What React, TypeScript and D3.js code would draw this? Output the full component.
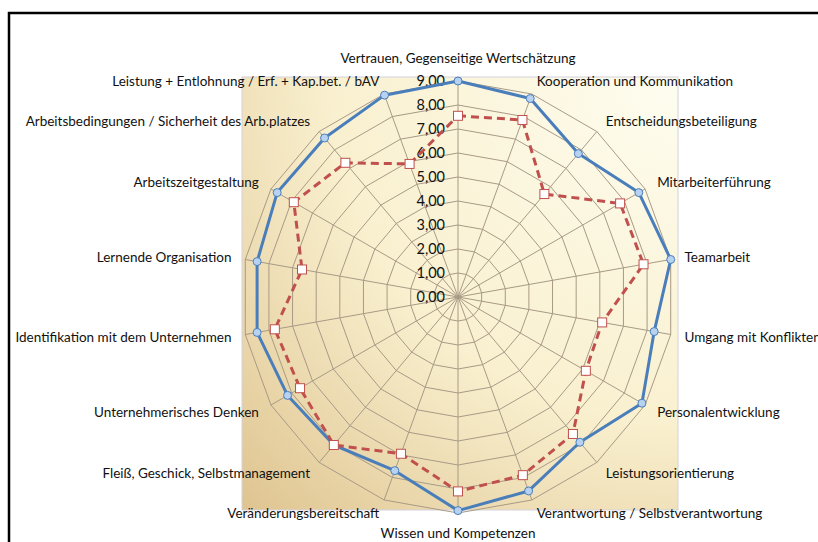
import { useEffect, useRef } from 'react';
import * as d3 from 'd3';

const categories = [
    'Vertrauen, Gegenseitige Wertschätzung',
    'Kooperation und Kommunikation',
    'Entscheidungsbeteiligung',
    'Mitarbeiterführung',
    'Teamarbeit',
    'Umgang mit Konflikten',
    'Personalentwicklung',
    'Leistungsorientierung',
    'Verantwortung / Selbstverantwortung',
    'Wissen und Kompetenzen',
    'Veränderungsbereitschaft',
    'Fleiß, Geschick, Selbstmanagement',
    'Unternehmerisches Denken',
    'Identifikation mit dem Unternehmen',
    'Lernende Organisation',
    'Arbeitszeitgestaltung',
    'Arbeitsbedingungen / Sicherheit des Arb.platzes',
    'Leistung + Entlohnung / Erf. + Kap.bet. / bAV',
];

const sollValues = [9.0, 8.8, 7.8, 8.7, 9.0, 8.3, 8.85, 7.9, 8.6, 8.9, 7.7, 8.05, 8.2, 8.5, 8.5, 8.7, 8.65, 8.95];
const istValues = [7.55, 7.85, 5.6, 7.8, 7.85, 6.1, 6.15, 7.45, 7.9, 8.1, 6.95, 8.05, 7.6, 7.75, 6.6, 7.9, 7.3, 5.9];

const ticks = [0, 1, 2, 3, 4, 5, 6, 7, 8, 9];

function App() {
    const chartRef = useRef(null);

    useEffect(() => {
        createRadar();
    }, []);

    function createRadar() {
        const svg = d3.select(chartRef.current);
        svg.selectAll('*').remove();

        const cx = 458;
        const cy = 297;
        const radius = 216;
        const n = categories.length;

        const r = d3.scaleLinear().domain([0, 9]).range([0, radius]);
        const angle = d3.scaleLinear().domain([0, n]).range([0, 2 * Math.PI]);
        const px = (i: number, v: number) => cx + r(v) * Math.sin(angle(i));
        const py = (i: number, v: number) => cy - r(v) * Math.cos(angle(i));

        // outer frame (only top + left visible)
        svg.append('path')
            .attr('d', 'M9,542 L9,13 L818,13')
            .attr('fill', 'none')
            .attr('stroke', '#000')
            .attr('stroke-width', 2.5);

        const defs = svg.append('defs');
        const grad = defs.append('radialGradient')
            .attr('id', 'plotBg')
            .attr('cx', '1').attr('cy', '0')
            .attr('r', '1.45');
        grad.append('stop').attr('offset', '0').attr('stop-color', '#fefdf0');
        grad.append('stop').attr('offset', '0.55').attr('stop-color', '#f9f0cf');
        grad.append('stop').attr('offset', '1').attr('stop-color', '#ddc18c');

        svg.append('rect')
            .attr('x', 242).attr('y', 77)
            .attr('width', 436).attr('height', 433)
            .attr('fill', 'url(#plotBg)')
            .attr('stroke', '#d4d2dc')
            .attr('stroke-width', 1);

        const grid = svg.append('g');

        ticks.slice(1).forEach((t) => {
            const pts = d3.range(n).map((i) => [px(i, t), py(i, t)] as [number, number]);
            grid.append('path')
                .attr('d', d3.line()(pts) + 'Z')
                .attr('fill', 'none')
                .attr('stroke', '#a89a86')
                .attr('stroke-width', 1);
        });

        d3.range(n).forEach((i) => {
            grid.append('line')
                .attr('x1', cx).attr('y1', cy)
                .attr('x2', px(i, 9)).attr('y2', py(i, 9))
                .attr('stroke', '#a89a86')
                .attr('stroke-width', 1);
        });

        // tick labels
        svg.append('g')
            .selectAll('text')
            .data(ticks)
            .enter()
            .append('text')
            .attr('x', cx - 13)
            .attr('y', (d) => cy - r(d))
            .attr('dy', '0.35em')
            .attr('text-anchor', 'end')
            .attr('font-family', 'Lato, sans-serif')
            .attr('font-size', 14.5)
            .attr('fill', '#111')
            .text((d) => d3.format('.2f')(d).replace('.', ','));

        // category labels
        svg.append('g')
            .selectAll('text')
            .data(categories)
            .enter()
            .append('text')
            .attr('x', (_d, i) => px(i, 9) + 14 * Math.sin(angle(i)))
            .attr('y', (_d, i) => {
                const c = Math.cos(angle(i));
                const s = Math.sin(angle(i));
                const extra = Math.abs(s) < 0.01 ? (c > 0 ? 9 : 6) * c : 0;
                return py(i, 9) - 14 * c - extra;
            })
            .attr('dy', '0.35em')
            .attr('text-anchor', (_d, i) => {
                const s = Math.sin(angle(i));
                return Math.abs(s) < 0.01 ? 'middle' : s > 0 ? 'start' : 'end';
            })
            .attr('font-family', 'Lato, sans-serif')
            .attr('font-size', 13.5)
            .attr('fill', '#111')
            .text((d) => d);

        const series = [
            { values: sollValues, color: '#4a7ebb', dash: null },
            { values: istValues, color: '#c0504d', dash: '8,5' },
        ];

        series.forEach((s) => {
            const pts = s.values.map((v, i) => [px(i, v), py(i, v)] as [number, number]);
            svg.append('path')
                .attr('d', d3.line()(pts) + 'Z')
                .attr('fill', 'none')
                .attr('stroke', s.color)
                .attr('stroke-width', 3)
                .attr('stroke-dasharray', s.dash)
                .attr('stroke-linejoin', 'round');
        });

        svg.append('g')
            .selectAll('circle')
            .data(sollValues)
            .enter()
            .append('circle')
            .attr('cx', (d, i) => px(i, d))
            .attr('cy', (d, i) => py(i, d))
            .attr('r', 4)
            .attr('fill', '#b7d2f0')
            .attr('stroke', '#4a7ebb')
            .attr('stroke-width', 1);

        svg.append('g')
            .selectAll('rect')
            .data(istValues)
            .enter()
            .append('rect')
            .attr('x', (d, i) => px(i, d) - 4.5)
            .attr('y', (d, i) => py(i, d) - 4.5)
            .attr('width', 9)
            .attr('height', 9)
            .attr('fill', '#fff')
            .attr('stroke', '#c0504d')
            .attr('stroke-width', 1);
    }

    return (
        <svg
            ref={chartRef}
            width="818"
            height="542"
            style={{ position: 'absolute', left: 0, top: 0, background: '#fff' }}
        ></svg>
    );
}

export default App;
